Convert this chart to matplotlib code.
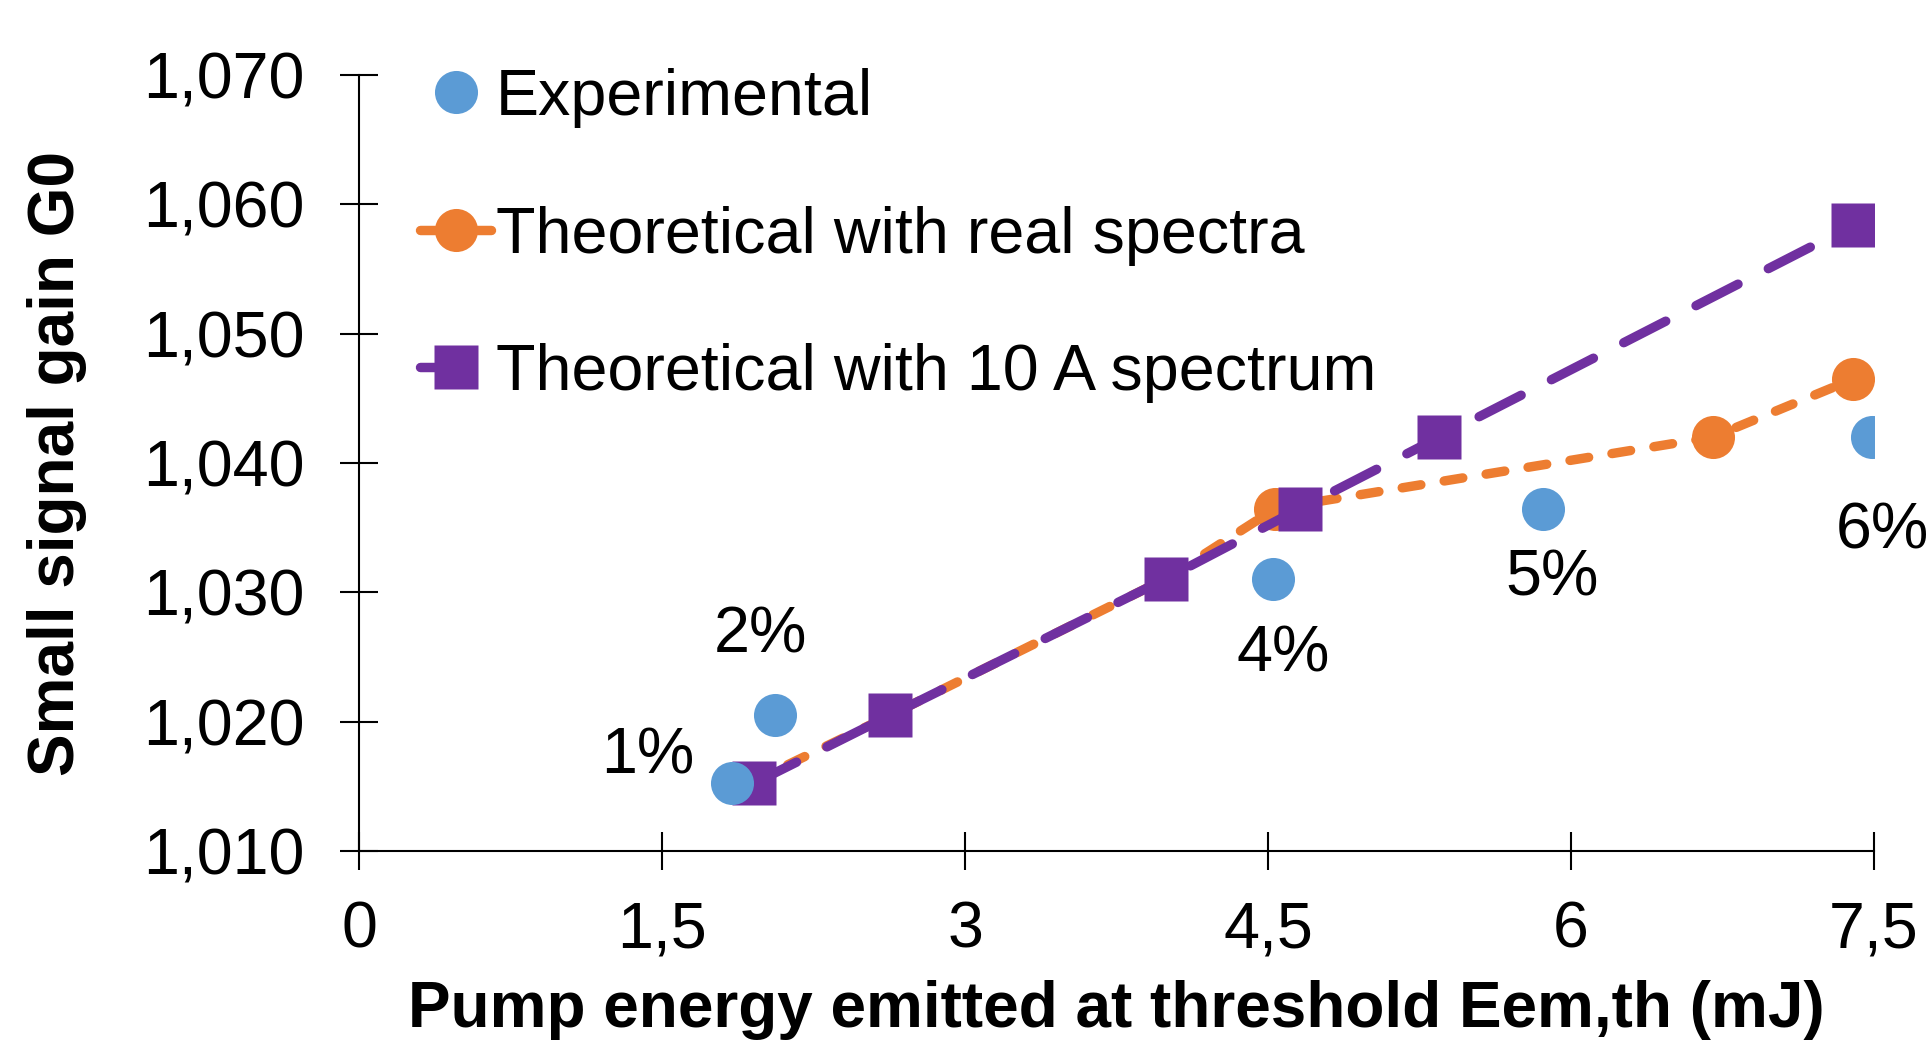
import matplotlib
matplotlib.use("Agg")
import matplotlib.pyplot as plt
from matplotlib.ticker import FixedLocator, FuncFormatter

# ---- data ----
exp_x = [1.848, 2.061, 4.524, 5.860, 7.488]
exp_y = [1.01524, 1.02048, 1.03105, 1.03648, 1.04200]
exp_labels = ["1%", "2%", "4%", "5%", "6%"]

real_x = [1.933, 2.628, 3.994, 4.537, 6.701, 7.396]
real_y = [1.01524, 1.02048, 1.03105, 1.03648, 1.04200, 1.04648]

a10_x = [1.957, 2.628, 3.994, 4.659, 5.348, 7.396]
a10_y = [1.01524, 1.02048, 1.03105, 1.03648, 1.04200, 1.05838]

x_ticks = [0, 1.5, 3, 4.5, 6, 7.5]
y_ticks = [1.010, 1.020, 1.030, 1.040, 1.050, 1.060, 1.070]

series_names = ["Experimental", "Theoretical with real spectra", "Theoretical with 10 A spectrum"]

# ---- style ----
plt.rcParams['font.family'] = ['Liberation Sans', 'DejaVu Sans']
BLUE = "#5B9BD5"
ORANGE = "#ED7D31"
PURPLE = "#7030A0"
FS = 46.5

fig = plt.figure(figsize=(19.32, 10.43), dpi=100)
ax = fig.add_axes([359/1932, 1-851/1043, (1874-359)/1932, (851-75)/1043])

l_real, = ax.plot(real_x, real_y, color=ORANGE, lw=6.8, dashes=(2.0, 2.5),
                  dash_capstyle='round', marker='o', ms=31, mec='none',
                  label=series_names[1], zorder=3)
l_a10, = ax.plot(a10_x, a10_y, color=PURPLE, lw=6.8, dashes=(5.0, 3.6),
                 dash_capstyle='round', marker='s', ms=32, mec='none',
                 label=series_names[2], zorder=4)
l_exp, = ax.plot(exp_x, exp_y, ls='none', marker='o', ms=31, color=BLUE,
                 mec='none', label=series_names[0], zorder=5)

offsets = [(-85, 27), (-15, 80), (10, -76), (9, -70), (11, -94)]
for x, y, t, off in zip(exp_x, exp_y, exp_labels, offsets):
    ax.annotate(t, (x, y), xytext=off, textcoords='offset pixels',
                ha='center', va='center', fontsize=FS, color='black', zorder=6)

ax.set_xlim(0, 7.5)
ax.set_ylim(1.010, 1.070)
ax.xaxis.set_major_locator(FixedLocator(x_ticks))
ax.yaxis.set_major_locator(FixedLocator(y_ticks))
ax.xaxis.set_major_formatter(FuncFormatter(lambda v, p: ("%g" % v).replace('.', ',')))
ax.yaxis.set_major_formatter(FuncFormatter(lambda v, p: ("%.3f" % v).replace('.', ',')))

for s in ['top', 'right']:
    ax.spines[s].set_visible(False)
for s in ['left', 'bottom']:
    ax.spines[s].set_linewidth(1.5)
    ax.spines[s].set_color('black')

ax.tick_params(axis='both', direction='inout', length=27, width=1.5, labelsize=FS, colors='black')
ax.tick_params(axis='y', pad=26)
ax.tick_params(axis='x', pad=22)

ax.set_xlabel("Pump energy emitted at threshold Eem,th (mJ)", fontsize=46, fontweight='bold', labelpad=14)
ax.set_ylabel("Small signal gain G0", fontsize=46, fontweight='bold', labelpad=40)

leg = ax.legend(handles=[l_exp, l_real, l_a10], loc='upper left',
                bbox_to_anchor=(420/1932, 1-68/1043), bbox_transform=fig.transFigure,
                frameon=False, fontsize=FS, handlelength=1.1, handletextpad=0.08,
                labelspacing=1.2, borderaxespad=0, borderpad=0, markerscale=1.0)
leg.get_lines()[1].set_linestyle('-')
leg.get_lines()[1].set_solid_capstyle('round')

fig.savefig("out.png", dpi=100)
